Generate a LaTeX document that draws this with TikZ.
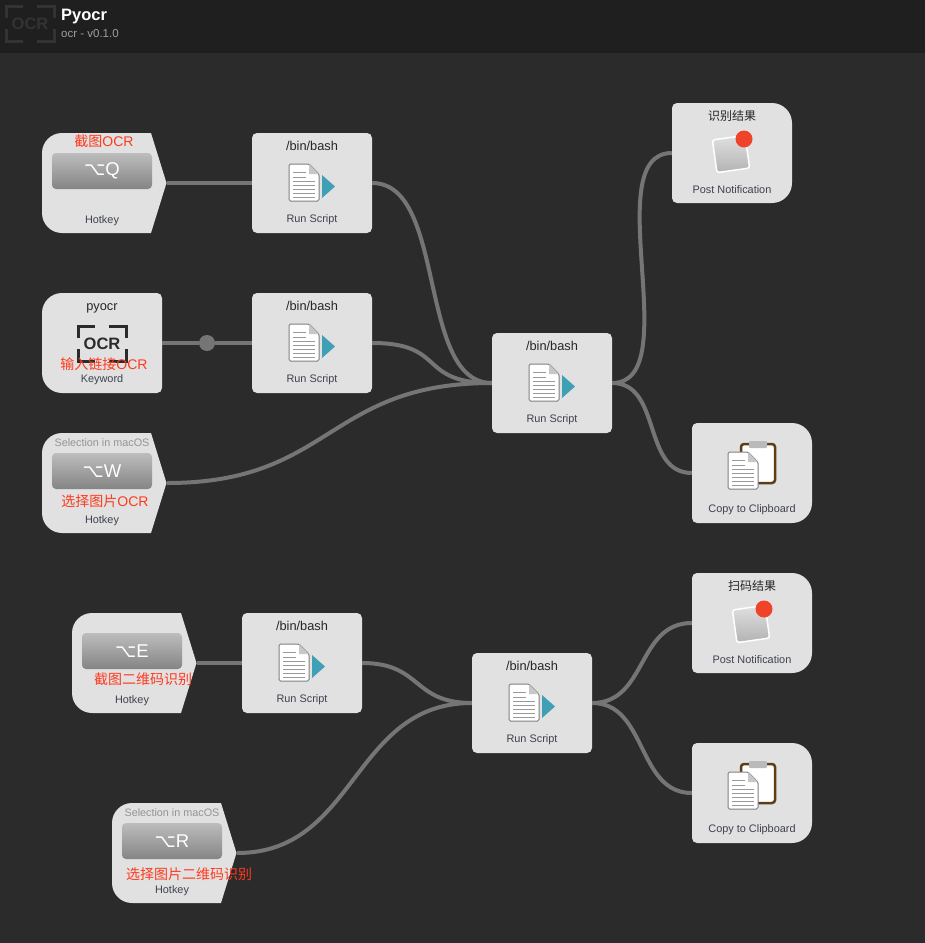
\documentclass[tikz,border=0pt]{standalone}
\usepackage{fontspec}
\setmainfont{Liberation Sans}
\newfontfamily\cjk{Noto Sans CJK SC}
\newfontfamily\dejavu{DejaVu Sans}
\usetikzlibrary{calc}

\definecolor{bgdark}{HTML}{2B2B2B}
\definecolor{headdark}{HTML}{1F1F1F}
\definecolor{boxgray}{HTML}{E1E1E1}
\definecolor{wiregray}{HTML}{757575}
\definecolor{inkdark}{HTML}{26262A}
\definecolor{kindink}{HTML}{3E4150}
\definecolor{redink}{HTML}{FF3A1E}
\definecolor{tealtip}{HTML}{3F9FB4}
\definecolor{clipbrown}{HTML}{5E3C17}
\definecolor{dotred}{HTML}{EF432A}

\tikzset{
  boxnode/.style={inner sep=0pt,minimum height=100pt,minimum width=120pt},
  wire/.style={draw=wiregray,line width=4pt},
  titletext/.style={inner sep=0pt,text=inkdark,font=\fontsize{12.8}{14}\selectfont},
  kindtext/.style={inner sep=0pt,text=kindink,font=\fontsize{10.9}{12}\selectfont},
  redtext/.style={inner sep=0pt,text=redink,font=\fontsize{14}{16}\selectfont},
  seltext/.style={inner sep=0pt,text=black!42,font=\fontsize{10.8}{12}\selectfont},
  keytext/.style={inner sep=0pt,text=white,font=\fontsize{18.5}{21}\selectfont},
}

%page with script arrow
\newcommand{\docicon}[2]{
  \fill[white,draw=black!50,line width=1pt,rounded corners=1.5pt](#1,#2)--(#1+20,#2)--(#1+30,#2+10)--(#1+30,#2+37)--(#1,#2+37)--cycle;
  \fill[black!22](#1+20,#2)--(#1+30,#2+10)--(#1+20,#2+10)--cycle;
  \foreach \i in {8,13} {\draw[black!40,line width=0.9pt](#1+4,#2+\i)--(#1+17,#2+\i);}
  \foreach \i in {17,21,25,29,33} {\draw[black!40,line width=0.9pt](#1+4,#2+\i)--(#1+26,#2+\i);}
}

%ocr brackets
\newcommand{\ocricon}[4]{
  \draw[#3,line width=3pt](#1,#2+12)--(#1,#2)--(#1+17,#2);
  \draw[#3,line width=3pt](#1+31,#2)--(#1+48,#2)--(#1+48,#2+12);
  \draw[#3,line width=3pt](#1,#2+23)--(#1,#2+35)--(#1+17,#2+35);
  \draw[#3,line width=3pt](#1+31,#2+35)--(#1+48,#2+35)--(#1+48,#2+23);
  \node[inner sep=0pt,text=#3,font=\fontsize{16.5}{20}\selectfont\bfseries](#4) at (#1+24,#2+17.5){OCR};
}

%hotkey box: name, x, y, key
\newcommand{\hotkeybox}[4]{
  \begin{scope}[shift={(#2,#3)}]
    \fill[boxgray](109,100)[rounded corners=20pt]--(0,100)--(0,0)[sharp corners]--(109,0)--(124.5,50)--cycle;
    \shade[top color=black!26,bottom color=black!48,rounded corners=4pt](10,20)rectangle(110,56);
    \node[boxnode,minimum width=125pt](#1) at (62.5,50){};
    \node[keytext](#1-key) at (60,38){{\dejavu ⌥}#4};
    \node[kindtext](#1-kind) at (60,87.5){Hotkey};
  \end{scope}
}

%run script box: name, x, y
\newcommand{\runbox}[3]{
  \begin{scope}[shift={(#2,#3)}]
    \fill[boxgray,rounded corners=5pt](0,0)rectangle(120,100);
    \docicon{37}{31}
    \fill[tealtip](70,42)--(83,53.5)--(70,65)--cycle;
    \node[boxnode](#1) at (60,50){};
    \node[titletext](#1-title) at (60,13){/bin/bash};
    \node[kindtext](#1-kind) at (60,87){Run Script};
  \end{scope}
}

%output box shape: right corners big
\newcommand{\outshape}{
  \fill[boxgray](0,50)[rounded corners=5pt]--(0,0)[rounded corners=20pt]--(120,0)--(120,100)[rounded corners=5pt]--(0,100)--cycle;
}

%notification box: name, x, y, title
\newcommand{\notebox}[4]{
  \begin{scope}[shift={(#2,#3)}]
    \outshape
    \shade[top color=black!12,bottom color=black!30,draw=white,line width=1.5pt,rounded corners=2.5pt,rotate around={8:(59,51)}](42.5,34.5)rectangle(75.5,67.5);
    \fill[dotred](72,36)circle(8.5);
    \node[boxnode](#1) at (60,50){};
    \node[titletext,font=\fontsize{12}{14}\selectfont\cjk](#1-title) at (60,13){#4};
    \node[kindtext](#1-kind) at (60,87){Post Notification};
  \end{scope}
}

%clipboard box: name, x, y
\newcommand{\copybox}[3]{
  \begin{scope}[shift={(#2,#3)}]
    \outshape
    \fill[white,draw=clipbrown,line width=2.5pt,rounded corners=3pt](49,21)rectangle(83,60);
    \fill[black!27,rounded corners=1pt](57,18)rectangle(75,25);
    \docicon{36}{29}
    \node[boxnode](#1) at (60,50){};
    \node[kindtext](#1-kind) at (60,87){Copy to Clipboard};
  \end{scope}
}

\begin{document}
\begin{tikzpicture}[x=1pt,y=-1pt]
\useasboundingbox(0,0)rectangle(925,943);
\fill[bgdark](0,0)rectangle(925,943);

%header
\fill[headdark](0,0)rectangle(925,53);
\ocricon{6}{6}{black!80}{headocr}
\node[anchor=west,inner sep=0pt,text=white,font=\fontsize{16.5}{18}\selectfont\bfseries](headname) at (61,17){Pyocr};
\node[anchor=west,inner sep=0pt,text=black!38,font=\fontsize{11.5}{13}\selectfont](headver) at (61,34){ocr - v0.1.0};

%upper group
\hotkeybox{hkq}{42}{133}{Q}
\runbox{runa}{252}{133}
\fill[boxgray](42,343)[rounded corners=20pt]--(42,293)[rounded corners=5pt]--(162,293)--(162,393)[rounded corners=20pt]--(42,393)--cycle;
\node[boxnode](kw) at (102,343){};
\node[titletext](kw-title) at (102,308){pyocr};
\ocricon{78}{326}{bgdark}{kw-ocr}
\node[kindtext](kw-kind) at (102,380){Keyword};
\runbox{runb}{252}{293}
\hotkeybox{hkw}{42}{433}{W}
\node[seltext](hkw-sel) at (102,443){Selection in macOS};
\runbox{runc}{492}{333}
\notebox{notea}{672}{103}{识别结果}
\copybox{copya}{692}{423}

%lower group
\hotkeybox{hke}{72}{613}{E}
\runbox{rund}{242}{613}
\hotkeybox{hkr}{112}{803}{R}
\node[seltext](hkr-sel) at (172,813){Selection in macOS};
\runbox{rune}{472}{653}
\notebox{noteb}{692}{573}{扫码结果}
\copybox{copyb}{692}{743}

%red notes
\node[redtext](redq) at (104,141){{\cjk 截图}OCR};
\node[redtext](redkw) at (104,364){{\cjk 输入链接}OCR};
\node[redtext](redw) at (105,501){{\cjk 选择图片}OCR};
\node[redtext](rede) at (143,679){\cjk 截图二维码识别};
\node[redtext](redr) at (189,874){\cjk 选择图片二维码识别};

%wires upper
\node[circle,fill=wiregray,inner sep=0pt,minimum size=16pt](kwdot) at (207,343){};
\draw[wire](hkq.east)to(runa.west);
\draw[wire](kw.east)to(kwdot);
\draw[wire](kwdot)to(runb.west);
\draw[wire](runa.east)..controls +(75,0) and +(-75,0)..(runc.west);
\draw[wire](runb.east)..controls +(75,0) and +(-75,0)..(runc.west);
\draw[wire](hkw.east)..controls +(165,0) and +(-165,0)..(runc.west);
\draw[wire](runc.east)..controls +(75,0) and +(-75,0)..(notea.west);
\draw[wire](runc.east)..controls +(50,0) and +(-50,0)..(copya.west);

%wires lower
\draw[wire](hke.east)to(rund.west);
\draw[wire](rund.east)..controls +(60,0) and +(-60,0)..(rune.west);
\draw[wire](hkr.east)..controls +(120,0) and +(-120,0)..(rune.west);
\draw[wire](rune.east)..controls +(55,0) and +(-55,0)..(noteb.west);
\draw[wire](rune.east)..controls +(55,0) and +(-55,0)..(copyb.west);
\end{tikzpicture}
\end{document}
